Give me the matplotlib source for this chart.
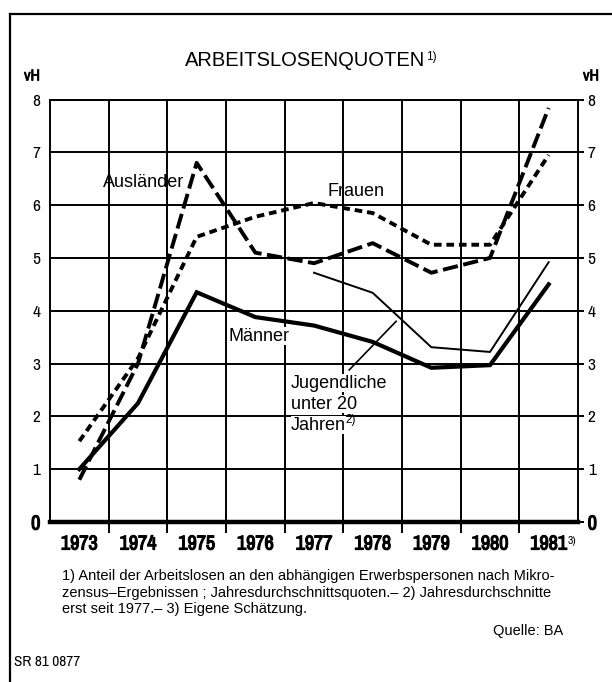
import matplotlib
matplotlib.use("Agg")
import matplotlib.pyplot as plt
import matplotlib.patheffects as pe
from matplotlib.lines import Line2D
from matplotlib.ticker import FixedLocator
from matplotlib import font_manager

# Arbeitslosenquoten in vH, Jahresdurchschnitte
years = [1973, 1974, 1975, 1976, 1977, 1978, 1979, 1980, 1981]
auslaender = [0.8, 3.0, 6.8, 5.1, 4.9, 5.28, 4.72, 5.0, 7.84]
frauen = [1.53, 3.1, 5.4, 5.78, 6.04, 5.85, 5.25, 5.25, 6.95]
maenner = [1.0, 2.25, 4.35, 3.88, 3.72, 3.41, 2.92, 2.97, 4.5]
jugend_years = [1977, 1978, 1979, 1980, 1981]
jugendliche = [4.72, 4.34, 3.31, 3.22, 4.92]

yticks = [0, 1, 2, 3, 4, 5, 6, 7, 8]
year_labels = ["1973", "1974", "1975", "1976", "1977", "1978", "1979", "1980", "1981"]

# condensed face if one is installed
names = sorted(set(f.name for f in font_manager.fontManager.ttflist))
cond = [n for n in names if "Narrow" in n] + [n for n in names if "Condensed" in n]
narrow = cond[:1] + ["Liberation Sans", "DejaVu Sans"]
sans = ["Liberation Sans", "DejaVu Sans"]
plt.rcParams["font.family"] = sans
plt.rcParams["lines.scale_dashes"] = False
fake_bold = [pe.withStroke(linewidth=0.9, foreground="black")]

W, H = 612, 682
fig = plt.figure(figsize=(W / 100, H / 100), dpi=100)
fig.patch.set_facecolor("white")

def fx(px):
    return px / W

def fy(py):
    return 1 - py / H

ax = fig.add_axes([fx(50), fy(522), fx(578) - fx(50), fy(99.5) - fy(522)])
ax.set_xlim(1972.5, 1981.5)
ax.set_ylim(0, 8)

# grid
ax.xaxis.set_minor_locator(FixedLocator([y + 0.5 for y in years[:-1]]))
ax.set_xticks(years)
ax.set_xticklabels(year_labels)
ax.grid(which="minor", axis="x", color="black", lw=1.4)
ax.set_yticks(yticks)
ax.grid(which="major", axis="y", color="black", lw=1.4)
ax.grid(which="major", axis="x", visible=False)
ax.set_axisbelow(True)

ax.tick_params(axis="x", which="major", length=0, pad=9)
ax.tick_params(axis="x", which="minor", length=8, width=1.4, direction="out")
ax.tick_params(axis="y", which="major", left=False, right=True, labelleft=True,
               labelright=True, length=4, width=1.4, direction="out", pad=3)
for lab in ax.get_xticklabels():
    lab.set_fontfamily(narrow)
    lab.set_fontweight("bold")
    lab.set_fontsize(14.5)
    lab.set_path_effects(fake_bold)
for t in ax.yaxis.get_major_ticks():
    for lab in (t.label1, t.label2):
        lab.set_fontfamily(narrow)
        lab.set_fontsize(12.5)
for lab in (ax.yaxis.get_major_ticks()[0].label1, ax.yaxis.get_major_ticks()[0].label2):
    lab.set_fontweight("bold")
    lab.set_fontsize(14.5)
    lab.set_path_effects(fake_bold)

for s in ["left", "right", "top"]:
    ax.spines[s].set_linewidth(1.4)
ax.spines["bottom"].set_linewidth(3.2)

# series
ax.plot(years, auslaender, color="black", lw=2.8, dashes=(11, 4), solid_joinstyle="miter")
ax.plot(years, frauen, color="black", lw=2.8, dashes=(5.5, 3.5))
ax.plot(years, maenner, color="black", lw=3.0, solid_joinstyle="miter")
ax.plot(jugend_years, jugendliche, color="black", lw=1.4)

# labels inside the chart
ax.text(1974.09, 6.42, "Ausländer", ha="center", va="center", fontsize=13)
ax.text(1977.72, 6.25, "Frauen", ha="center", va="center", fontsize=13)
ax.text(1976.07, 3.52, "Männer", ha="center", va="center", fontsize=13,
        bbox=dict(facecolor="white", edgecolor="none", pad=0.5))
for yy, s in [(2.63, "Jugendliche"), (2.23, "unter 20"), (1.83, "Jahren")]:
    ax.text(1976.61, yy, s, ha="left", va="center", fontsize=13,
            bbox=dict(facecolor="white", edgecolor="none", pad=0.3))
ax.text(1977.53, 1.93, "2)", ha="left", va="center", fontsize=8.5)
ax.plot([1977.6, 1978.4], [2.88, 3.8], color="black", lw=1.2)

ax.text(1981.33, -0.045, "3)", transform=ax.get_xaxis_transform(), ha="left",
        va="center", fontsize=8.5, fontfamily=narrow)

# title and units
fig.text(fx(305), fy(61), "ARBEITSLOSENQUOTEN", ha="center", va="center", fontsize=14.5)
fig.text(fx(426), fy(57), "1)", ha="left", va="center", fontsize=8.5)
fig.text(fx(32), fy(76), "vH", ha="center", va="center", fontsize=11.5,
         fontfamily=narrow, path_effects=[pe.withStroke(linewidth=0.5, foreground="black")])
fig.text(fx(591), fy(76), "vH", ha="center", va="center", fontsize=11.5,
         fontfamily=narrow, path_effects=[pe.withStroke(linewidth=0.5, foreground="black")])

# footnotes
notes = [
    "1) Anteil der Arbeitslosen an den abhängigen Erwerbspersonen nach Mikro-",
    "zensus\u2013Ergebnissen ; Jahresdurchschnittsquoten.\u2013 2) Jahresdurchschnitte",
    "erst seit 1977.\u2013 3) Eigene Schätzung.",
]
for i, s in enumerate(notes):
    fig.text(fx(62), fy(576 + 16.5 * i), s, ha="left", va="center", fontsize=10.5)
fig.text(fx(563), fy(631), "Quelle: BA", ha="right", va="center", fontsize=10.5)
fig.text(fx(14), fy(662), "SR 81 0877", ha="left", va="center", fontsize=11,
         fontfamily=narrow)

# outer frame (left and top)
fig.add_artist(Line2D([fx(10), fx(10)], [fy(14), 0], color="black", lw=1.6))
fig.add_artist(Line2D([fx(10), 1], [fy(14), fy(14)], color="black", lw=1.6))

fig.savefig("out.png", dpi=100, facecolor="white")
